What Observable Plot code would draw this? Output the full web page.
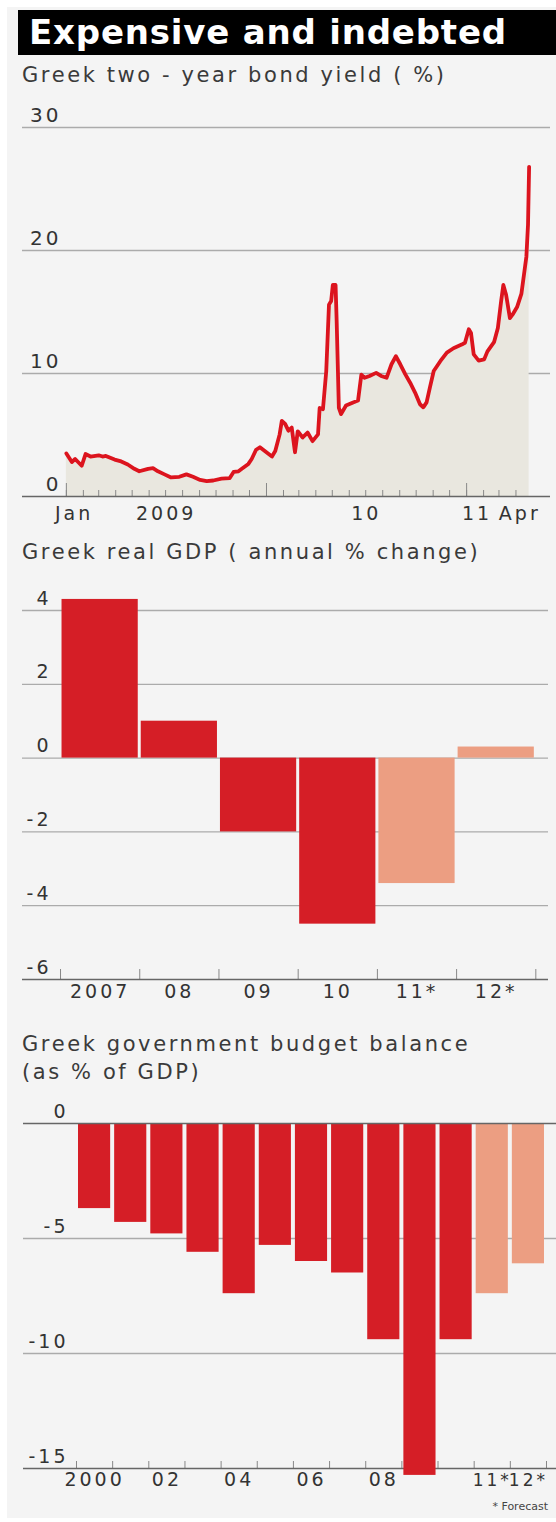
<!DOCTYPE html>
<html><head><meta charset="utf-8">
<script src="https://cdn.jsdelivr.net/npm/d3@7"></script>
<script src="https://cdn.jsdelivr.net/npm/@observablehq/plot@0.6"></script>
<style>
body{margin:0;background:#fff;}
#root{position:relative;width:556px;height:1522px;overflow:hidden;font-family:"DejaVu Sans",sans-serif;color:#333;}
#panel{position:absolute;left:7px;top:7px;width:549px;height:1511px;background:#f4f4f4;}
#title{position:absolute;left:18px;top:10px;width:538px;height:45px;background:#000;color:#fff;font-weight:bold;font-size:34px;letter-spacing:0.8px;line-height:45px;padding-left:11px;box-sizing:border-box;white-space:nowrap;}
.sub{position:absolute;left:22px;font-size:21px;letter-spacing:2.6px;color:#3a3a3a;white-space:nowrap;line-height:1;}
.chart{position:absolute;left:0;}
svg text{letter-spacing:3px;}
g[aria-label="budget forecast labels"] text{letter-spacing:0.5px;}
#note{position:absolute;right:8px;top:1500px;font-size:11px;color:#444;}
</style></head>
<body>
<div id="root">
  <div id="panel"></div>
  <div id="title">Expensive and indebted</div>
  <div class="sub" style="top:65px">Greek two - year bond yield ( %)</div>
  <div class="chart" id="c1" style="top:100px"></div>
  <div class="sub" style="top:542px">Greek real GDP ( annual % change)</div>
  <div class="chart" id="c2" style="top:580px"></div>
  <div class="sub" style="top:1030px;line-height:28px">Greek government budget balance<br>(as % of GDP)</div>
  <div class="chart" id="c3" style="top:1090px"></div>
  <div id="note">* Forecast</div>
</div>
<script>
// ---------- data ----------
const yieldDates = ["2009-01-01","2009-01-11","2009-01-17","2009-01-29","2009-02-05","2009-02-14","2009-03-01","2009-03-08","2009-03-14","2009-03-30","2009-04-11","2009-04-23","2009-05-05","2009-05-14","2009-05-30","2009-06-08","2009-06-17","2009-06-29","2009-07-11","2009-07-26","2009-08-08","2009-08-20","2009-09-02","2009-09-14","2009-09-26","2009-10-11","2009-10-26","2009-11-02","2009-11-11","2009-11-17","2009-11-29","2009-12-05","2009-12-13","2009-12-20","2010-01-05","2010-01-11","2010-01-17","2010-01-25","2010-01-29","2010-02-04","2010-02-10","2010-02-16","2010-02-22","2010-02-27","2010-03-08","2010-03-17","2010-03-26","2010-04-05","2010-04-08","2010-04-14","2010-04-20","2010-04-25","2010-04-29","2010-05-02","2010-05-07","2010-05-09","2010-05-13","2010-05-17","2010-05-26","2010-06-08","2010-06-17","2010-06-23","2010-06-29","2010-07-08","2010-07-20","2010-07-29","2010-08-08","2010-08-17","2010-08-25","2010-09-02","2010-09-11","2010-09-20","2010-09-29","2010-10-08","2010-10-14","2010-10-20","2010-10-26","2010-11-02","2010-11-14","2010-11-26","2010-12-08","2010-12-23","2010-12-29","2011-01-05","2011-01-09","2011-01-14","2011-01-23","2011-02-02","2011-02-08","2011-02-20","2011-02-27","2011-03-05","2011-03-09","2011-03-14","2011-03-21","2011-03-26","2011-04-03","2011-04-11","2011-04-17","2011-04-20","2011-04-23","2011-04-25"];
const yieldValues = [3.5,2.8,3.05,2.5,3.45,3.25,3.35,3.25,3.3,3.0,2.85,2.6,2.25,2.05,2.25,2.3,2.05,1.8,1.55,1.6,1.8,1.6,1.35,1.25,1.3,1.45,1.5,2.0,2.05,2.25,2.65,3.05,3.8,4.0,3.45,3.25,3.7,5.05,6.15,5.9,5.35,5.6,3.6,5.3,4.8,5.2,4.5,5.05,7.2,7.1,10.2,15.6,15.9,17.2,17.2,14.25,7.2,6.7,7.4,7.65,7.8,9.9,9.65,9.8,10.05,9.8,9.65,10.75,11.4,10.75,9.95,9.25,8.45,7.5,7.25,7.65,8.85,10.2,11.0,11.7,12.05,12.35,12.5,13.6,13.3,11.55,11.05,11.15,11.8,12.55,13.7,15.9,17.2,16.4,14.5,14.8,15.4,16.5,18.5,19.5,22.1,26.8];
const yieldTicks = [0,10,20,30];
const yieldLabelDates = ["2009-01-15","2009-07-02","2010-07-02","2011-01-20","2011-04-08"];
const yieldLabelTexts = ["Jan","2009","10","11","Apr"];

const gdpYears = [2007,2008,2009,2010,2011,2012];
const gdpLabels = ["2007","08","09","10","11*","12*"];
const gdpValues = [4.3,1.0,-2.0,-4.5,-3.4,0.3];
const gdpForecast = [false,false,false,false,true,true];
const gdpTicks = [4,2,0,-2,-4,-6];

const budgetYears = [2000,2001,2002,2003,2004,2005,2006,2007,2008,2009,2010,2011,2012];
const budgetValues = [-3.7,-4.3,-4.8,-5.6,-7.4,-5.3,-6.0,-6.5,-9.4,-15.3,-9.4,-7.4,-6.1];
const budgetForecast = [false,false,false,false,false,false,false,false,false,false,false,true,true];
const budgetLabelYears = [2000,2002,2004,2006,2008,2011,2012];
const budgetLabelTexts = ["2000","02","04","06","08","11*","12*"];
const budgetTicks = [0,-5,-10,-15];

// ---------- build ----------
const parse = d3.utcParse("%Y-%m-%d");
const RED = "#d51e26", PINK = "#ec9e82", GRID = "#ababab", AXIS = "#666";
const style = "background:transparent;font-family:'DejaVu Sans',sans-serif;font-size:19px;color:#333;overflow:visible";
const colorScale = {domain:["actual","forecast"], range:[RED, PINK]};

const yieldData = yieldDates.map((d,i)=>({date:parse(d), value:yieldValues[i]}));
const months = d3.utcMonth.range(parse("2009-01-01"), parse("2011-04-02"));
const yearStarts = months.filter(d => d.getUTCMonth() === 0);
const yieldLabels = yieldLabelDates.map((d,i)=>({date:parse(d), text:yieldLabelTexts[i]}));

const c1 = Plot.plot({
  width:556, height:432, marginLeft:22, marginRight:6, marginTop:27, marginBottom:36,
  style,
  x:{type:"utc", domain:[parse("2008-10-13"), parse("2011-06-03")]},
  y:{domain:[0,30], axis:null},
  marks:[
    Plot.ruleY(yieldTicks.filter(d=>d>0), {stroke:GRID, strokeWidth:1.3}),
    Plot.areaY(yieldData, {x:"date", y:"value", fill:"#e9e7df"}),
    Plot.axisX(months, {tickSize:-6, fill:"none", stroke:"#888", label:null}),
    Plot.axisX(yearStarts, {tickSize:-13, fill:"none", stroke:"#888", label:null}),
    Plot.ruleY([0], {stroke:AXIS, strokeWidth:1.6}),
    Plot.lineY(yieldData, {x:"date", y:"value", stroke:"#dc141e", strokeWidth:3.8, strokeLinejoin:"round", strokeLinecap:"round"}),
    Plot.text(yieldTicks, {y:d=>d, text:d=>String(d), frameAnchor:"left", textAnchor:"end", dx:39, dy:-6, lineAnchor:"bottom", fontSize:20}),
    Plot.text(yieldLabels, {x:"date", text:"text", frameAnchor:"bottom", lineAnchor:"bottom", dy:23, fontSize:19})
  ]
});
document.getElementById("c1").append(c1);

const gdpData = gdpYears.map((y,i)=>({year:y, label:gdpLabels[i], value:gdpValues[i], kind:gdpForecast[i]?"forecast":"actual"}));
const gdpEdges = [...gdpYears.map(y=>y-0.5), gdpYears[gdpYears.length-1]+0.5];
const c2 = Plot.plot({
  width:556, height:430, marginLeft:22, marginRight:8, marginTop:30, marginBottom:31,
  style,
  x:{domain:[2006.02, 2012.66]},
  y:{domain:[-6,4], axis:null},
  color:colorScale,
  marks:[
    Plot.ruleY(gdpTicks.filter(d=>d>-6), {stroke:GRID, strokeWidth:1.3}),
    Plot.rectY(gdpData, {x1:d=>d.year-0.5, x2:d=>d.year+0.5, y1:0, y2:"value", fill:"kind", insetLeft:1.5, insetRight:1.5}),
    Plot.axisX(gdpEdges, {tickSize:-10, fill:"none", stroke:"#888", label:null}),
    Plot.ruleY([-6], {stroke:AXIS, strokeWidth:1.6}),
    Plot.text(gdpTicks, {y:d=>d, text:d=>String(d), frameAnchor:"left", textAnchor:"end", dx:29, dy:-6, lineAnchor:"bottom", fontSize:19}),
    Plot.text(gdpData, {x:"year", text:"label", frameAnchor:"bottom", lineAnchor:"bottom", dy:18, fontSize:19})
  ]
});
document.getElementById("c2").append(c2);

const budgetData = budgetYears.map((y,i)=>({year:y, value:budgetValues[i], kind:budgetForecast[i]?"forecast":"actual"}));
const budgetEdges = [...budgetYears.map(y=>y-0.5), budgetYears[budgetYears.length-1]+0.5];
const budgetLabels = budgetLabelYears.map((y,i)=>({year:y, text:budgetLabelTexts[i]}));
const isForecastLabel = d => d.text.endsWith("*");
const c3 = Plot.plot({
  width:556, height:432, marginLeft:23, marginRight:0, marginTop:33, marginBottom:54,
  style,
  x:{domain:[1998.034, 2012.777]},
  y:{domain:[-15,0], axis:null},
  color:colorScale,
  marks:[
    Plot.ruleY(budgetTicks.filter(d=>d<0 && d>-15), {stroke:GRID, strokeWidth:1.3}),
    Plot.axisX(budgetEdges, {tickSize:-7, fill:"none", stroke:"#888", label:null}),
    Plot.ruleY([-15], {stroke:AXIS, strokeWidth:1.6}),
    Plot.rectY(budgetData, {x1:d=>d.year-0.5, x2:d=>d.year+0.5, y1:0, y2:"value", fill:"kind", insetLeft:2, insetRight:2}),
    Plot.ruleY([0], {stroke:AXIS, strokeWidth:1.6}),
    Plot.text(budgetTicks, {y:d=>d, text:d=>String(d), frameAnchor:"left", textAnchor:"end", dx:45, dy:-6, lineAnchor:"bottom", fontSize:19}),
    Plot.text(budgetLabels.filter(d=>!isForecastLabel(d)), {x:"year", text:"text", frameAnchor:"bottom", lineAnchor:"bottom", dy:17, fontSize:19}),
    Plot.text(budgetLabels.filter(isForecastLabel), {x:"year", text:"text", frameAnchor:"bottom", lineAnchor:"bottom", dy:17, fontSize:17, ariaLabel:"budget forecast labels"})
  ]
});
document.getElementById("c3").append(c3);
</script>
</body></html>
